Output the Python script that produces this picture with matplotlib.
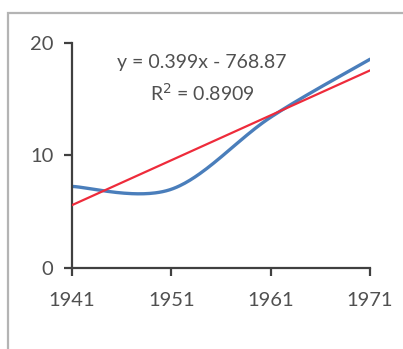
import matplotlib
matplotlib.use("Agg")
import matplotlib.pyplot as plt
import numpy as np
from matplotlib.patches import Rectangle

plt.rcParams["font.family"] = ["Lato", "DejaVu Sans"]

# ---- data ----------------------------------------------------------------
years = [1941, 1951, 1961, 1971]
values = [7.25, 7.0, 13.4, 18.55]
slope = 0.399
intercept = -768.87
r_squared = 0.8909
x_ticks = [1941, 1951, 1961, 1971]
y_ticks = [0, 10, 20]

AXIS_GREY = "#404040"
TEXT_GREY = "#505050"
BLUE = "#4a7ebb"
RED = "#ee2b3b"


def smooth_curve(xs, ys, n=60):
    """Bezier smoothing through the points (Catmull-Rom style control points)."""
    pts = np.column_stack([xs, ys]).astype(float)
    padded = np.vstack([pts[0], pts, pts[-1]])
    t = np.linspace(0, 1, n)[:, None]
    out = []
    for i in range(len(pts) - 1):
        p0, p1 = padded[i + 1], padded[i + 2]
        c1 = p0 + (padded[i + 2] - padded[i]) / 6
        c2 = p1 - (padded[i + 3] - padded[i + 1]) / 6
        seg = ((1 - t) ** 3) * p0 + 3 * ((1 - t) ** 2) * t * c1 \
            + 3 * (1 - t) * t ** 2 * c2 + t ** 3 * p1
        out.append(seg if i == 0 else seg[1:])
    seg = np.vstack(out)
    return seg[:, 0], seg[:, 1]


fig = plt.figure(figsize=(4.03, 3.49), dpi=100)
ax = fig.add_axes([0.1787, 0.232, 0.7395, 0.645])

# chart-area frame running off the right and bottom edges
fig.add_artist(Rectangle((0.021, -0.1), 1.2, 1.0628, transform=fig.transFigure,
                         fill=False, edgecolor="#b4b4b4", linewidth=1.6))

sx, sy = smooth_curve(years, values)
ax.plot(sx, sy, color=BLUE, linewidth=2.4, solid_capstyle="round", zorder=2)

trend_x = np.array([years[0], years[-1]], dtype=float)
ax.plot(trend_x, slope * trend_x + intercept, color=RED, linewidth=1.6, zorder=3)

ax.text(1954.1, 18.3, f"y = {slope}x - {abs(intercept)}", ha="center", va="center",
        fontsize=14, color=TEXT_GREY)
ax.text(1954.1, 15.6, f"R$^2$ = {r_squared}", ha="center", va="center",
        fontsize=14, color=TEXT_GREY)

ax.set_xlim(1941, 1971)
ax.set_ylim(0, 20)
ax.set_xticks(x_ticks)
ax.set_yticks(y_ticks)

for side in ("top", "right"):
    ax.spines[side].set_visible(False)
for side in ("left", "bottom"):
    ax.spines[side].set_color(AXIS_GREY)
    ax.spines[side].set_linewidth(1.6)
    ax.spines[side].set_capstyle("projecting")

ax.tick_params(axis="x", direction="out", length=5.5, width=1.6, color=AXIS_GREY,
               labelsize=14.5, labelcolor=TEXT_GREY, pad=12)
ax.tick_params(axis="y", direction="out", length=5.5, width=1.6, color=AXIS_GREY,
               labelsize=14.5, labelcolor=TEXT_GREY, pad=8)
for lbl in ax.get_xticklabels() + ax.get_yticklabels():
    lbl.set_clip_on(False)

fig.savefig("out.png", dpi=100)
